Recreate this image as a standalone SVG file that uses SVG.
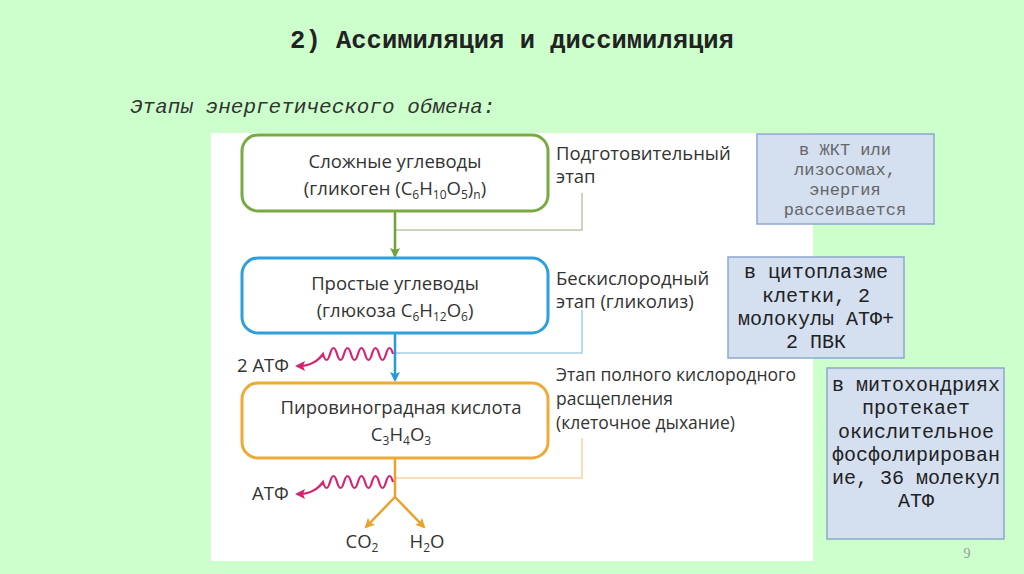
<svg xmlns="http://www.w3.org/2000/svg" width="1024" height="574" viewBox="0 0 1024 574">
<defs>
<style>
.t{font-family:"Open Sans","Liberation Sans",sans-serif;font-size:18.5px;fill:#333}
.s3{font-size:17.5px}
.c{text-anchor:middle}
.mono{font-family:"Liberation Mono","Courier New",monospace;text-anchor:middle}
.info{fill:#d4dff0;stroke:#8ea8cc;stroke-width:1.5}
.node{fill:#fff;stroke-width:3}
.br{fill:none;stroke-width:1.5}
.wave{fill:none;stroke:#d6236f;stroke-width:2.2}
</style>
<marker id="ag" markerWidth="10" markerHeight="10" refX="8" refY="5" orient="auto" markerUnits="userSpaceOnUse"><path d="M0,0 L10,5 L0,10 L2,5 Z" fill="#6ea33a"/></marker>
<marker id="ab" markerWidth="10" markerHeight="10" refX="8" refY="5" orient="auto" markerUnits="userSpaceOnUse"><path d="M0,0 L10,5 L0,10 L2,5 Z" fill="#2a9ad6"/></marker>
<marker id="ao" markerWidth="10" markerHeight="10" refX="8" refY="5" orient="auto" markerUnits="userSpaceOnUse"><path d="M0,0 L10,5 L0,10 L2,5 Z" fill="#eba22c"/></marker>
<marker id="am" markerWidth="10" markerHeight="10" refX="8" refY="5" orient="auto" markerUnits="userSpaceOnUse"><path d="M0,0 L10,5 L0,10 L2,5 Z" fill="#d6236f"/></marker>
</defs>
<rect x="0" y="0" width="1024" height="574" fill="#ccffcc"/>
<text x="512" y="48" text-anchor="middle" font-family="Liberation Mono, Courier New, monospace" font-weight="bold" font-size="25.5" fill="#222">2) Ассимиляция и диссимиляция</text>
<text x="130" y="113" font-family="Liberation Mono, Courier New, monospace" font-style="italic" font-size="21" fill="#333">Этапы энергетического обмена:</text>
<rect x="211" y="133" width="602" height="428" fill="#fff"/>

<g id="connectors">
<path class="br" stroke="#b9c9a6" d="M395,230 H582 V193"/>
<path class="br" stroke="#a6cbe6" d="M395,353 H582 V310"/>
<path class="br" stroke="#f3d5a3" d="M395,478 H582 V438"/>
<line x1="395" y1="211" x2="395" y2="256" stroke="#6ea33a" stroke-width="2.5" marker-end="url(#ag)"/>
<line x1="395" y1="334" x2="395" y2="380" stroke="#2a9ad6" stroke-width="2.5" marker-end="url(#ab)"/>
<path d="M395,459 V497" stroke="#eba22c" stroke-width="2.5" fill="none"/>
<line x1="395" y1="497" x2="366" y2="527" stroke="#eba22c" stroke-width="2.5" marker-end="url(#ao)"/>
<line x1="395" y1="497" x2="424" y2="527" stroke="#eba22c" stroke-width="2.5" marker-end="url(#ao)"/>
<path class="wave" marker-end="url(#am)" d="M393,354 q-3.5,-12 -7,0 q-3.5,12 -7,0 q-3.5,-12 -7,0 q-3.5,12 -7,0 q-3.5,-12 -7,0 q-3.5,12 -7,0 q-3.5,-12 -7,0 q-3.5,12 -7,0 q-3.5,-12 -7,0 q-3.5,12 -7,0 c-7,10 -16,12 -26,12"/>
<path class="wave" marker-end="url(#am)" d="M393,482 q-3.5,-12 -7,0 q-3.5,12 -7,0 q-3.5,-12 -7,0 q-3.5,12 -7,0 q-3.5,-12 -7,0 q-3.5,12 -7,0 q-3.5,-12 -7,0 q-3.5,12 -7,0 q-3.5,-12 -7,0 q-3.5,12 -7,0 c-7,10 -16,12 -26,12"/>
</g>

<g id="n-complex">
<rect class="node" x="242" y="135" width="306" height="76" rx="16" stroke="#78aa42"/>
<text class="t c" x="395" y="168">Сложные углеводы</text>
<text class="t c" x="395" y="195">(гликоген (C<tspan font-size="12" dy="4">6</tspan><tspan dy="-4">H</tspan><tspan font-size="12" dy="4">10</tspan><tspan dy="-4">O</tspan><tspan font-size="12" dy="4">5</tspan><tspan dy="-4">)</tspan><tspan font-size="12" dy="4">n</tspan><tspan dy="-4">)</tspan></text>
</g>
<g id="n-simple">
<rect class="node" x="242" y="258" width="306" height="75" rx="16" stroke="#2e9fdb"/>
<text class="t c" x="395" y="290">Простые углеводы</text>
<text class="t c" x="395" y="317">(глюкоза C<tspan font-size="12" dy="4">6</tspan><tspan dy="-4">H</tspan><tspan font-size="12" dy="4">12</tspan><tspan dy="-4">O</tspan><tspan font-size="12" dy="4">6</tspan><tspan dy="-4">)</tspan></text>
</g>
<g id="n-pyruvate">
<rect class="node" x="242" y="383" width="306" height="75" rx="16" stroke="#eeaa38"/>
<text class="t c" x="401" y="414">Пировиноградная кислота</text>
<text class="t c" x="401" y="441">C<tspan font-size="12" dy="4">3</tspan><tspan dy="-4">H</tspan><tspan font-size="12" dy="4">4</tspan><tspan dy="-4">O</tspan><tspan font-size="12" dy="4">3</tspan></text>
</g>
<g id="atp1"><text class="t" x="237" y="372">2 АТФ</text></g>
<g id="atp2"><text class="t" x="252" y="500">АТФ</text></g>
<g id="co2"><text class="t c" x="362" y="548">CO<tspan font-size="12" dy="4">2</tspan></text></g>
<g id="h2o"><text class="t c" x="427" y="548">H<tspan font-size="12" dy="4">2</tspan><tspan dy="-4">O</tspan></text></g>

<g id="stage1">
<text class="t" x="556" y="160">Подготовительный</text>
<text class="t" x="556" y="183">этап</text>
</g>
<g id="stage2">
<text class="t" x="556" y="285">Бескислородный</text>
<text class="t" x="556" y="308">этап (гликолиз)</text>
</g>
<g id="stage3">
<text class="t s3" x="556" y="381">Этап полного кислородного</text>
<text class="t s3" x="556" y="405">расщепления</text>
<text class="t s3" x="556" y="429">(клеточное дыхание)</text>
</g>

<g id="info1">
<rect class="info" x="757" y="134" width="177" height="90"/>
<g class="mono" font-size="17" fill="#666">
<text x="845" y="155">в ЖКТ или</text>
<text x="845" y="175">лизосомах,</text>
<text x="845" y="195">энергия</text>
<text x="845" y="215">рассеивается</text>
</g>
</g>
<g id="info2">
<rect class="info" x="728" y="257" width="176" height="101"/>
<g class="mono" font-size="20" fill="#222">
<text x="816" y="278">в цитоплазме</text>
<text x="816" y="302">клетки, 2</text>
<text x="816" y="325">молокулы АТФ+</text>
<text x="816" y="348">2 ПВК</text>
</g>
</g>
<g id="info3">
<rect class="info" x="827" y="368" width="177" height="171"/>
<g class="mono" font-size="20" fill="#222">
<text x="916" y="391">в митохондриях</text>
<text x="916" y="414">протекает</text>
<text x="916" y="438">окислительное</text>
<text x="916" y="461">фосфолирирован</text>
<text x="916" y="484">ие, 36 молекул</text>
<text x="916" y="507">АТФ</text>
</g>
</g>
<text x="967" y="558" text-anchor="middle" font-family="Liberation Serif, serif" font-size="14" fill="#999">9</text>
</svg>
